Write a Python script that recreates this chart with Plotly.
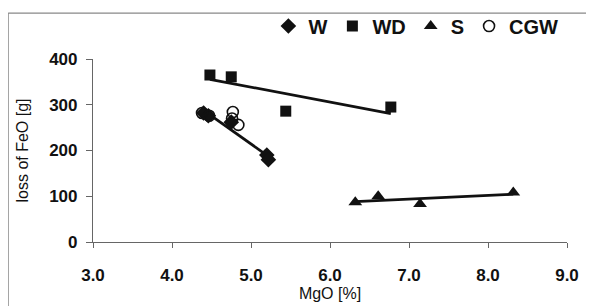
import numpy as np
import plotly.graph_objects as go

# ---- data ----
w_x = [4.40, 4.46, 4.75, 5.20, 5.22]
w_y = [282, 276, 262, 190, 180]

wd_x = [4.48, 4.75, 5.44, 6.77]
wd_y = [365, 361, 286, 295]

s_x = [6.32, 6.61, 7.14, 8.32]
s_y = [87, 100, 83, 108]

cgw_x = [4.38, 4.47, 4.77, 4.76, 4.84]
cgw_y = [282, 276, 284, 270, 256]

x_ticks = [3.0, 4.0, 5.0, 6.0, 7.0, 8.0, 9.0]
y_ticks = [0, 100, 200, 300, 400]

FONT = "Liberation Sans, Arial, sans-serif"

fig = go.Figure()

def trend(xs, ys):
    k, b = np.polyfit(xs, ys, 1)
    xx = np.array([min(xs), max(xs)])
    return xx, k * xx + b

for xs, ys in [(w_x, w_y), (wd_x, wd_y), (s_x, s_y)]:
    tx, ty = trend(xs, ys)
    fig.add_trace(go.Scatter(x=tx, y=ty, mode="lines", showlegend=False,
                             line=dict(color="#111111", width=2.8), hoverinfo="skip"))

fig.add_trace(go.Scatter(x=w_x, y=w_y, mode="markers", name="W",
                         marker=dict(symbol="diamond", size=12, color="#111111")))
fig.add_trace(go.Scatter(x=wd_x, y=wd_y, mode="markers", name="WD",
                         marker=dict(symbol="square", size=11, color="#111111")))
fig.add_trace(go.Scatter(x=s_x, y=s_y, mode="markers", name="S",
                         marker=dict(symbol="triangle-up", size=12, color="#111111")))
fig.add_trace(go.Scatter(x=cgw_x, y=cgw_y, mode="markers", name="CGW",
                         marker=dict(symbol="circle-open", size=11, color="#111111",
                                     line=dict(width=1.6, color="#111111"))))

fig.update_layout(
    width=594, height=307,
    margin=dict(l=85, r=35, t=51, b=73, autoexpand=False),
    paper_bgcolor="white", plot_bgcolor="white",
    font=dict(family=FONT, color="#111111"),
    legend=dict(orientation="h", x=0.37, y=1.18, xanchor="left", yanchor="middle",
                font=dict(size=20, family=FONT, weight="bold"),
                bgcolor="rgba(0,0,0,0)", itemwidth=30, tracegroupgap=0),
    xaxis=dict(range=[3.0, 9.0], tickvals=x_ticks,
               ticktext=[f"{v:.1f}" for v in x_ticks],
               showgrid=False, zeroline=False, showline=True,
               linecolor="#666666", linewidth=1.2,
               ticks="outside", ticklen=5, tickcolor="#666666",
               tickfont=dict(size=17, weight="bold"), ticklabelstandoff=12,
               title=dict(text="MgO [%]", font=dict(size=16), standoff=4)),
    yaxis=dict(range=[0, 400], tickvals=y_ticks,
               showgrid=False, zeroline=False, showline=True,
               linecolor="#666666", linewidth=1.2,
               ticks="outside", ticklen=6, tickcolor="#666666",
               tickfont=dict(size=17, weight="bold"), ticklabelstandoff=5,
               title=dict(text="loss of FeO [g]", font=dict(size=16), standoff=16)),
    shapes=[
        dict(type="line", xref="paper", yref="paper",
             x0=-0.179, x1=-0.179, y0=-0.35, y1=1.251,
             line=dict(color="#888888", width=1.2)),
        dict(type="line", xref="paper", yref="paper",
             x0=-0.179, x1=1.05, y0=1.251, y1=1.251,
             line=dict(color="#888888", width=1.2)),
    ],
)

fig.write_html("out.html")
